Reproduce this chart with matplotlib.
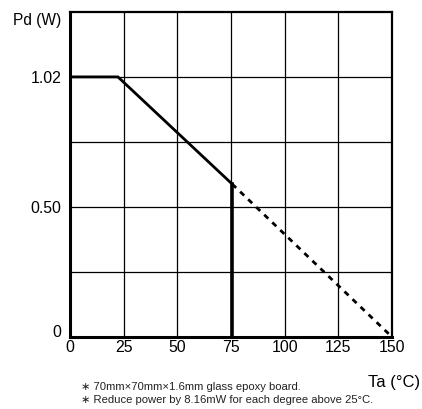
import matplotlib.pyplot as plt

plt.rcParams['font.family'] = ['Liberation Sans', 'DejaVu Sans']

# derating curve
ta_solid = [0, 22.3, 75.5]
pd_solid = [1.02, 1.02, 0.60]
ta_dash = [75.5, 150]
pd_dash = [0.60, 0.0]

x_ticks = [0, 25, 50, 75, 100, 125, 150]
y_ticks = [0, 0.51, 1.02]
y_labels = ["0", "0.50", "1.02"]
y_grid = [0.255, 0.51, 0.765, 1.02]

fig = plt.figure(figsize=(4.22, 4.09), dpi=100)
ax = fig.add_axes([0.166, 0.176, 0.763, 0.795])

for x in x_ticks[1:-1]:
    ax.axvline(x, color="k", lw=0.9, zorder=1)
for y in y_grid:
    ax.axhline(y, color="k", lw=0.9, zorder=1)

ax.plot(ta_solid, pd_solid, color="k", lw=2, solid_joinstyle="miter", zorder=3)
ax.plot([ta_solid[-1], ta_solid[-1]], [0, pd_solid[-1]], color="k", lw=2.6, zorder=3)
ax.plot(ta_dash, pd_dash, color="k", lw=2, ls=(0, (2, 2)), zorder=3)

ax.set_xlim(0, 150)
ax.set_ylim(0, 1.275)
ax.set_xticks(x_ticks)
ax.set_yticks(y_ticks)
ax.set_yticklabels(y_labels)
ax.tick_params(length=0, labelsize=11.4, pad=2)
ax.tick_params(axis="y", pad=6)
ax.get_yticklabels()[0].set_va("baseline")

for side in ["left", "bottom"]:
    ax.spines[side].set_linewidth(2.2)
for side in ["top", "right"]:
    ax.spines[side].set_linewidth(1.6)

fig.text(37 / 422, 1 - 20 / 409, "Pd (W)", fontsize=11.2, ha="center", va="center")
fig.text(394 / 422, 1 - 382 / 409, "Ta (\u00b0C)", fontsize=12, ha="center", va="center")
fig.text(81 / 422, 1 - 387 / 409, "\u2217 70mm\u00d770mm\u00d71.6mm glass epoxy board.",
         fontsize=8.1, ha="left", va="center", color="#222222")
fig.text(81 / 422, 1 - 400 / 409, "\u2217 Reduce power by 8.16mW for each degree above 25\u00b0C.",
         fontsize=8.1, ha="left", va="center", color="#222222")

fig.savefig("out.png", dpi=100)
